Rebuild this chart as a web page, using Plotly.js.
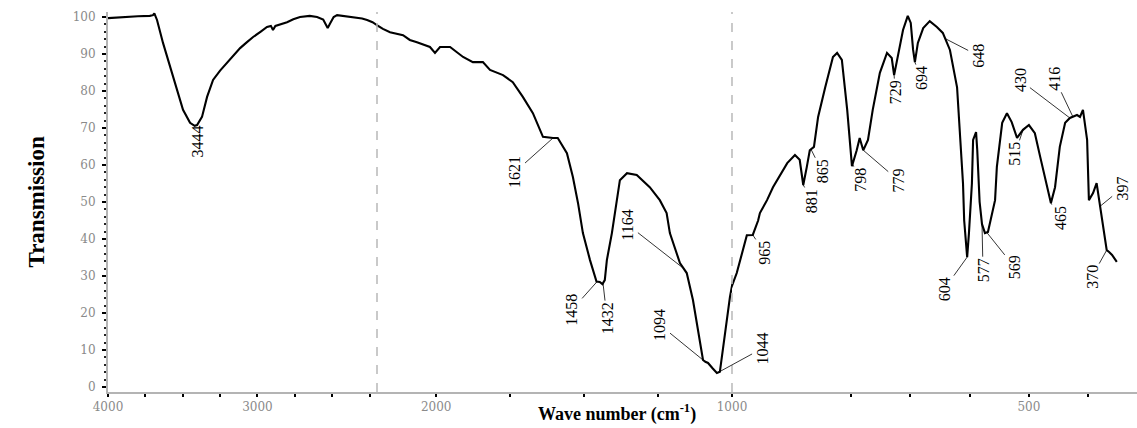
<!DOCTYPE html>
<html>
<head>
<meta charset="utf-8">
<script src="https://cdn.plot.ly/plotly-3.0.1.min.js"></script>
<style>html,body{margin:0;padding:0;background:#fff;}#chart{width:1137px;height:428px;}</style>
</head>
<body>
<div id="chart"></div>
<script>
// ---- data: wavenumber (cm-1) and transmission ----
const wavenumber = [
  4000,3900,3800,3720,3699,3690,3680,3672,3632,3565,3498,3451,3420,3404,3371,3337,3297,3250,3203,3160,3116,3070,3029,2980,2936,2910,2896,2880,2802,2760,2715,2650,2601,2560,2540,2530,2515,2490,2467,2420,2360,2300,2266,2230,2200,
  2180,2156,2112,2089,2065,2021,2004,1987,1953,1930,1909,1876,1842,1818,1774,1741,1707,1673,1639,1605,1589,1558,1538,1520,1504,1480,1463,1458,1447,1438,1430,1423,1406,1389,1379,1355,1322,1278,1244,1221,1210,1176,1166,1153,1132,1108,1098,1090,1081,1065,1051,1041,1024,1007,
  992,975,965,956,953,941,931,907,894,886,880,874,869,862,855,843,830,823,815,806,798,790,785,779,771,763,751,739,731,727,720,712,704,699,695,692,687,678,667,655,645,633,621,616,611,609,606,604,601,598,596,594,589,587,583,579,574,569,562,557,554,545,537,529,520,510,500,490,481,470,463,456,448,439,431,419,414,409,402,399,392,386,381,375,369,365,360,352
];
const transmission = [
  99.7,100.0,100.2,100.3,100.5,101.0,99.8,99.2,93,83.8,74.9,71.4,70.6,70.8,73,78.4,83,85.5,87.6,89.8,91.6,93.2,94.6,96,97.3,97.6,96.5,97.6,98.6,99.4,100,100.3,100,99.3,97.8,97.0,98.2,100,100.5,100.3,100,99.6,99.2,98.6,97.8,
  96.8,95.9,95.1,93.8,93.2,91.9,90.3,91.9,91.9,90.5,89.2,87.8,87.8,85.7,84.3,82.4,78.4,74,67.6,67.3,67.3,63.2,56.8,49.5,41.6,34.3,29.5,28.5,28.4,27.8,28.9,34.3,41.6,50.5,55.9,57.8,57.3,54,50.5,47,41.6,33.5,32.2,30.8,23.5,12.7,7.3,6.8,6.5,5,3.8,4.1,14.6,24.3,
  30.8,41,41.1,45,47,50.5,54,60.5,62.7,61.4,54.6,59.5,64,64.9,73,81,89.2,90.3,88.4,74.9,59.7,64,67.3,64,66.8,74.9,84.9,90.3,88.9,84.3,90.3,96.5,100.3,98.4,91.1,87.8,93,97,98.9,97.3,95.7,91.1,81,68.6,55,45,40,35.1,41.6,50.5,55,66.8,68.9,64,50,44,41.6,41.9,47,50.5,59.5,71.4,74,71.6,67.3,69.5,70.8,68.6,62.2,54,49.7,54,64.9,71.4,72.7,73.5,73,74.9,66.8,50.5,52.4,55.1,50,43.2,37,36.5,35.7,33.8
];
// peak labels (text) and the wavenumber where each label's leader meets the curve
const peakText   = ['3444','1621','1458','1432','1164','1094','1044','965','881','865','798','779','729','694','648','604','577','569','515','465','430','416','397','370'];
const peakAnchor = [3420, 1605, 1456, 1436, 1166, 1098, 1047, 965, 880, 867, 797, 779, 727, 692, 641, 604, 579, 571, 510, 463, 431, 426, 380, 369];
// x-axis tick values per axis segment
const ticks1 = [4000,3750,3500,3250,3000,2750,2500,2250];
const tickText1 = ['4000','','','','3000','','',''];
const ticks2 = [2000,1750,1500,1250];
const tickText2 = ['2000','','',''];
const ticks3 = [1000,800,700,600,500,400];
const tickText3 = ['1000','','','','500',''];

// ---- layout-only placement of the label texts (pixel offsets from anchor) ----
const labelOffsets = [[3,16],[-38,34],[-25,28],[4,35],[-55,-43],[-43,-35],[44,-24],[12,18],[9,16],[11,22],[8,16],[35,30],[1,17],[6,16],[33,17],[-23,32],[1,46],[28,35],[-8,24],[9,15],[-50,-38],[-18,-38],[22,-18],[-15,27]];

const B1 = 2200, B2 = 1000;
function axisFor(w){ return w > B1 ? 'x' : (w >= B2 ? 'x2' : 'x3'); }
function segment(lo, hi){
  const xs=[], ys=[];
  for (let i=0;i<wavenumber.length;i++){
    const w = wavenumber[i];
    const inside = w<=hi && w>=lo;
    const prevIn = i>0 && wavenumber[i-1]<=hi && wavenumber[i-1]>=lo;
    const nextIn = i<wavenumber.length-1 && wavenumber[i+1]<=hi && wavenumber[i+1]>=lo;
    if (inside || prevIn || nextIn){ xs.push(w); ys.push(transmission[i]); }
  }
  return {xs, ys};
}
function interp(w){
  for (let i=0;i<wavenumber.length-1;i++){
    const a=wavenumber[i], b=wavenumber[i+1];
    if ((w<=a && w>=b)){ const t=(a-w)/(a-b||1); return transmission[i]+t*(transmission[i+1]-transmission[i]); }
  }
  return transmission[transmission.length-1];
}

const lineStyle = {color:'#000', width:2.1};
const s1 = segment(B1, 5000), s2 = segment(B2, B1), s3 = segment(0, B2);
const traces = [
  {x:s1.xs, y:s1.ys, xaxis:'x',  yaxis:'y', mode:'lines', line:lineStyle, hoverinfo:'skip'},
  {x:s2.xs, y:s2.ys, xaxis:'x2', yaxis:'y', mode:'lines', line:lineStyle, hoverinfo:'skip'},
  {x:s3.xs, y:s3.ys, xaxis:'x3', yaxis:'y', mode:'lines', line:lineStyle, hoverinfo:'skip'}
];

const serif = '"Liberation Serif", "Times New Roman", serif';
const tickFont = {family:'"DejaVu Serif", serif', size:12, color:'#8a8a8a'};
function xAxis(domain, range, tv, tt){
  return {domain, range, tickvals:tv, ticktext:tt, anchor:'y', showgrid:false, zeroline:false,
    showline:true, linecolor:'#b4b4b4', linewidth:2, ticks:'outside', ticklen:3, tickwidth:2, tickcolor:'#000',
    tickfont:tickFont, fixedrange:true};
}
const annotations = peakText.map((t,i)=>{
  const w = peakAnchor[i];
  const ax = axisFor(w);
  return {x:w, y:interp(w), xref:ax, yref:'y', text:t, textangle:-90,
    showarrow:true, arrowhead:0, arrowwidth:0.8, arrowcolor:'#000', standoff:0,
    ax:labelOffsets[i][0], ay:labelOffsets[i][1],
    font:{family:serif, size:16, color:'#000'}};
});
annotations.push({text:'Transmission', xref:'paper', yref:'paper', x:-0.0836, y:0.5, textangle:-90,
  showarrow:false, font:{family:serif, size:23, color:'#000', weight:'bold'}});
annotations.push({text:'Wave number (cm<sup>-1</sup>)', xref:'paper', yref:'paper', x:0.4947, y:-0.055,
  yanchor:'middle', showarrow:false, font:{family:serif, size:18, color:'#000', weight:'bold'}});

const layout = {
  width:1137, height:428,
  margin:{l:108, r:0, t:12, b:36},
  paper_bgcolor:'#fff', plot_bgcolor:'#fff',
  showlegend:false,
  xaxis: xAxis([0,0.26142],[4000,2200],ticks1,tickText1),
  xaxis2: xAxis([0.26142,0.60641],[2200,1000],ticks2,tickText2),
  xaxis3: xAxis([0.60641,1],[1000,318],ticks3,tickText3),
  yaxis: {range:[-1.35,101.35], anchor:'x', tickvals:[0,10,20,30,40,50,60,70,80,90,100],
    showgrid:false, zeroline:false, showline:true, linecolor:'#b4b4b4', linewidth:2,
    ticks:'outside', ticklen:4, tickwidth:2, tickcolor:'#000', tickfont:tickFont, ticklabelstandoff:4,
    minor:{dtick:2, ticks:'outside', ticklen:2, tickwidth:2, tickcolor:'#222'}, fixedrange:true},
  shapes:[
    {type:'line', xref:'paper', yref:'paper', x0:0.26142, x1:0.26142, y0:0, y1:1, line:{color:'#b8b8b8', width:1.5, dash:'dash'}},
    {type:'line', xref:'paper', yref:'paper', x0:0.60641, x1:0.60641, y0:0, y1:1, line:{color:'#b8b8b8', width:1.5, dash:'dash'}}
  ],
  annotations
};
Plotly.newPlot('chart', traces, layout, {displayModeBar:false, staticPlot:true});
</script>
</body>
</html>
